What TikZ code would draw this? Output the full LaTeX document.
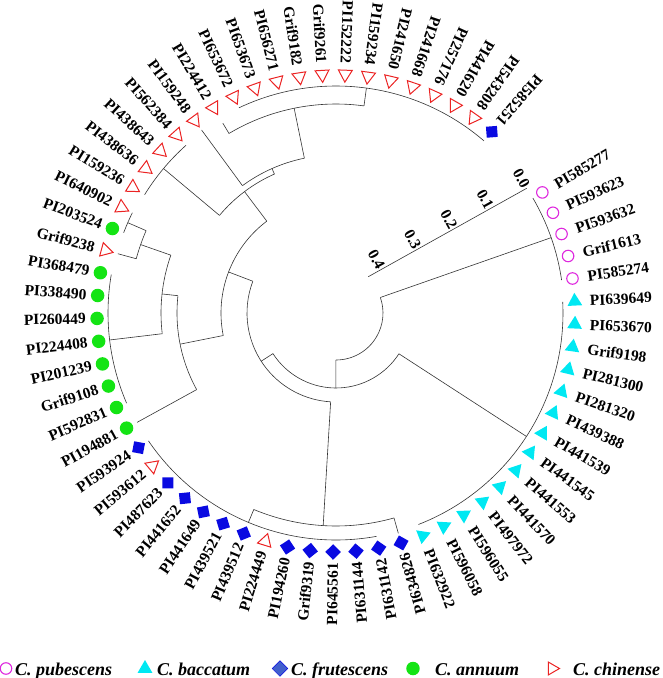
\documentclass[tikz,border=0pt]{standalone}
\usepackage{fontspec}
\setmainfont{Liberation Serif}
\usetikzlibrary{shapes.geometric,calc}

\definecolor{pubcol}{RGB}{222,40,222}
\definecolor{baccol}{RGB}{0,232,242}
\definecolor{frucol}{RGB}{10,10,225}
\definecolor{legfru}{RGB}{65,95,205}
\definecolor{anncol}{RGB}{20,228,20}
\definecolor{chicol}{RGB}{235,35,35}

\begin{document}
\begin{tikzpicture}[x=1pt, y=1pt,
	branch/.style={line width=0.6pt, black!80},
	acc/.style={font=\fontsize{15.5}{15.5}\selectfont\bfseries, inner sep=0pt},
	legtext/.style={font=\fontsize{18}{18}\selectfont\bfseries\itshape, inner sep=0pt, anchor=base west},
	pub/.style={circle, draw=pubcol, line width=1.1pt, minimum size=11.5pt, inner sep=0pt},
	ann/.style={circle, fill=anncol, minimum size=13.5pt, inner sep=0pt},
	fru/.style={rectangle, fill=frucol, minimum size=11pt, inner sep=0pt, rotate=#1-45},
	bac/.style={regular polygon, regular polygon sides=3, fill=baccol, minimum size=17pt, inner sep=0pt, rotate=#1},
	chi/.style={regular polygon, regular polygon sides=3, draw=chicol, line width=1pt, minimum size=16pt, inner sep=0pt, rotate=#1+90}]
	\useasboundingbox (-336,-365) rectangle (327,313);
	% arcs: radius/start/end
	\foreach \r/\s/\e in {47/-90.1/19.3, 75/212.8/327.05, 89/159.1/266.55, 115/127/191.3,
		152/113.9/140.05, 158/101.55/126.3, 209/82.3/120.8, 227/49.3/115.3, 225/131.8/148.3,
		159/173.75/208.8, 175/160.7/186.8, 207/156.55/164.8, 227/153.8/159.3, 228/170.3/203.3,
		213/247.3/285.8, 227/214.3/280.3, 227/-68.7/2.8, 228/8.3/30.3}
		\draw[branch] (\s:\r) arc[start angle=\s, end angle=\e, radius=\r];
	% radial branches: angle/inner/outer
	\foreach \ang/\ri/\ro in {269.9/47/75, 19.3/47/228, 212.8/75/89, 327.05/75/227,
		159.1/89/115, 266.55/89/213, 127/115/152, 191.3/115/159, 140.05/152/225,
		113.9/152/158, 126.3/158/227, 101.55/158/209, 120.8/209/221, 82.3/209/227,
		173.75/159/175, 208.8/159/227, 160.7/175/207, 186.8/175/228, 156.55/207/227,
		164.8/207/226, 247.3/213/227, 285.8/213/229}
		\draw[branch] (\ang:\ri) -- (\ang:\ro);
	% accessions
	\foreach \lab/\sp [count=\i from 0] in {PI585277/pub, PI593623/pub, PI593632/pub, Grif1613/pub, PI585274/pub,
		PI639649/bac, PI653670/bac, Grif9198/bac, PI281300/bac, PI281320/bac, PI439388/bac, PI441539/bac,
		PI441545/bac, PI441553/bac, PI441570/bac, PI497972/bac, PI596055/bac, PI596058/bac, PI632922/bac,
		PI634826/fru, PI631142/fru, PI631144/fru, PI645561/fru, Grif9319/fru, PI194260/fru, PI224449/chi,
		PI439512/fru, PI439521/fru, PI441649/fru, PI441652/fru, PI487623/fru, PI593612/chi, PI593924/fru,
		PI194881/ann, PI592831/ann, Grif9108/ann, PI201239/ann, PI224408/ann, PI260449/ann, PI338490/ann,
		PI368479/ann, Grif9238/chi, PI203524/ann, PI640902/chi, PI159236/chi, PI438636/chi, PI438643/chi,
		PI562384/chi, PI159248/chi, PI224412/chi, PI653672/chi, PI653673/chi, PI656271/chi, Grif9182/chi,
		Grif9261/chi, PI152222/chi, PI159234/chi, PI241650/chi, PI241668/chi, PI257176/chi, PI441620/chi,
		PI543208/chi, PI585251/fru} {
		\pgfmathsetmacro\a{30.3-5.5*\i}
		\node[\sp=\a] (m\i) at (\a:239) {};
		\ifnum\i<19
			\node[acc, anchor=west, rotate=\a] (l\i) at (\a:254) {\lab};
		\else
			\node[acc, anchor=east, rotate=\a+180] (l\i) at (\a:250) {\lab};
		\fi
	}
	% scale bar
	\coordinate (s0) at (190.7,124.7);
	\coordinate (s4) at (32.3,36.3);
	\draw[branch] (s0) -- (s4);
	\foreach \v [count=\k from 0] in {0.0,0.1,0.2,0.3,0.4} {
		\pgfmathsetmacro\d{41.5*\k}
		\node[acc, rotate=-60.8, anchor=east, inner sep=1pt] (t\k) at ($(s0)!\d pt!(s4)$) {\v};
	}
	% legend
	\node[pub] (kpub) at (-330,-355.5) {};
	\node[legtext] (tpub) at (-321,-362) {C. pubescens};
	\node[bac=0] (kbac) at (-191,-355.5) {};
	\node[legtext] (tbac) at (-179,-362) {C. baccatum};
	\node[fru=90, fill=legfru, draw=frucol, line width=0.4pt] (kfru) at (-56,-355.5) {};
	\node[legtext] (tfru) at (-45,-362) {C. frutescens};
	\node[ann] (kann) at (77,-355.5) {};
	\node[legtext] (tann) at (99,-362) {C. annuum};
	\node[chi=-180, minimum size=15pt] (kchi) at (216,-355.5) {};
	\node[legtext] (tchi) at (237,-362) {C. chinense};
\end{tikzpicture}
\end{document}
